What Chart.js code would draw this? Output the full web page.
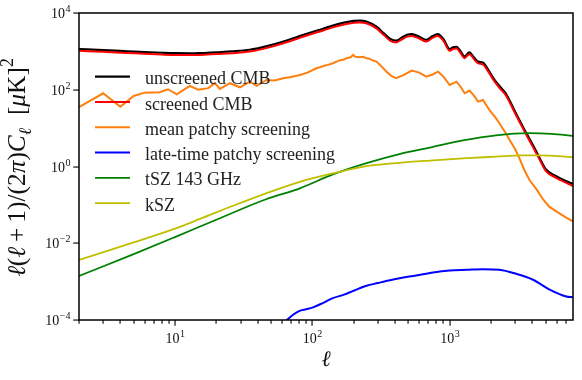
<!DOCTYPE html>
<html><head><meta charset="utf-8">
<script src="https://cdn.jsdelivr.net/npm/chart.js@4.4.0/dist/chart.umd.min.js"></script>
<style>html,body{margin:0;padding:0;background:#fff;}</style>
</head><body>
<canvas id="c" width="582" height="380"></canvas>
<script>
// ---------- data ----------
const seriesLabels = ["unscreened CMB","screened CMB","mean patchy screening","late-time patchy screening","tSZ 143 GHz","kSZ"];

const ellCMB = [2,3,4,5,6,8,10,13,15,20,26,35,46,60,81,100,120,141,170,200,221,250,293,330,370,407,450,490,530,600,676,750,818,900,1000,1060,1120,1200,1280,1390,1500,1610,1740,1900,2100,2300,2560,3040,3610,4040,4520,5000,6000,7000,7900];
const unscreenedCMB = [1150,1080,1030,990,960,920,895,890,900,950,1000,1100,1350,1750,2500,3200,3900,4700,5600,6200,6300,5900,4400,3000,2100,1900,2300,2700,2800,2400,2000,2500,2800,2100,1150,1280,1320,1000,740,940,700,540,510,340,190,125,80,24,7.4,3.6,1.65,0.85,0.55,0.42,0.35];
const screenedCMB = [1035,972,927,891,864,828,806,801,810,855,900,990,1215,1575,2250,2880,3510,4230,5040,5580,5670,5310,3960,2700,1890,1710,2070,2430,2520,2160,1800,2250,2520,1890,1035,1152,1188,900,666,846,630,486,459,306,171,112,72,21.6,6.7,3.2,1.5,0.77,0.5,0.38,0.31];

const ellMean = [2,3,4,5,6,7.7,8.9,10.3,12.8,14.7,17.5,19.5,21.2,25.1,29.7,35.1,39.3,46.4,53,61.4,70,81.3,92,107,115,122,130,141,150,160,170,177,190,198,205,220,235,248,260,270,293,320,347,375,407,460,530,600,676,750,822,900,1000,1120,1200,1285,1397,1500,1610,1745,1950,2150,2300,2560,2730,3000,3225,3500,3800,4300,4770,5300,5970,7000,7900];
const meanPatchy = [35,81,36,69,84,86,103,76,126,100,110,148,105,148,116,162,126,180,175,200,215,243,280,363,390,420,445,490,540,590,610,660,700,810,720,700,720,660,640,600,540,400,295,230,200,240,315,280,220,250,295,220,133,162,120,81,95,70,49,54,29.5,19,13.4,7.4,4.9,2.8,1.6,0.8,0.45,0.25,0.14,0.09,0.068,0.047,0.037];

const ellLate = [60,65,72,80,90,100,120,141,170,200,248,300,350,430,570,757,1000,1330,1745,2300,3040,4040,5340,7060,7900];
const latePatchy = [8.5e-5,1.0e-4,1.35e-4,1.7e-4,1.9e-4,2.1e-4,2.8e-4,3.7e-4,4.6e-4,5.8e-4,7.8e-4,9.2e-4,1.05e-3,1.23e-3,1.45e-3,1.74e-3,1.95e-3,2.03e-3,2.1e-3,2.03e-3,1.6e-3,1.12e-3,6.2e-4,4.1e-4,3.9e-4];

const ellTSZ = [2,5,10,19,46,81,141,248,430,716,1250,2170,3800,5500,7900];
const tSZ = [0.0014,0.0052,0.0145,0.038,0.14,0.27,0.62,1.22,2.1,3.1,4.8,6.5,7.4,7.1,6.3];

const ellKSZ = [2,5,10,15.2,26.5,46,81,141,248,430,716,1330,2170,3300,4520,7900];
const kSZ = [0.0037,0.0105,0.024,0.043,0.095,0.20,0.40,0.66,1.02,1.25,1.43,1.65,1.8,1.95,1.95,1.75];

const xTickExps = [1,2,3];
const yTickExps = [-4,-2,0,2,4];

// ---------- chart ----------
const SERIF = "'Liberation Serif','Times New Roman',serif";
const pts = (xs, ys) => xs.map((v, i) => ({x: v, y: ys[i]}));
const colors = ["#000000","#ff0000","#ff7f0e","#0000ff","#008000","#bfbf00"];
const widths = [2.2,2,2,2,1.8,1.8];
const sets = [
  [ellCMB, unscreenedCMB, 'monotone'],
  [ellCMB, screenedCMB, 'monotone'],
  [ellMean, meanPatchy, null],
  [ellLate, latePatchy, 'monotone'],
  [ellTSZ, tSZ, 'monotone'],
  [ellKSZ, kSZ, 'monotone']
];
const datasets = sets.map((s, i) => {
  const d = {
    label: seriesLabels[i], data: pts(s[0], s[1]),
    borderColor: colors[i], backgroundColor: colors[i],
    borderWidth: widths[i], pointRadius: 0, fill: false,
    order: 10 - i
  };
  if (s[2]) d.cubicInterpolationMode = s[2]; else d.tension = 0;
  return d;
});

function supStr(e){ return e < 0 ? "\u2212" + (-e) : String(e); }
function drawPow(ctx, x, y, exp, align){
  const base = "10", sup = supStr(exp);
  ctx.font = "14px " + SERIF;
  const wb = ctx.measureText(base).width;
  ctx.font = "10px " + SERIF;
  const we = ctx.measureText(sup).width;
  let sx = align === 'right' ? x - wb - we : x - (wb + we) / 2;
  ctx.textAlign = 'left'; ctx.textBaseline = 'alphabetic';
  ctx.font = "14px " + SERIF; ctx.fillText(base, sx, y);
  ctx.font = "10px " + SERIF; ctx.fillText(sup, sx + wb + 0.5, y - 6);
}

const decor = {
  id: 'decor',
  afterDraw(chart){
    const ctx = chart.ctx, a = chart.chartArea, xs = chart.scales.x, ys = chart.scales.y;
    ctx.save();
    ctx.fillStyle = "#000"; ctx.strokeStyle = "#000";
    // frame
    ctx.lineWidth = 1.5;
    ctx.strokeRect(a.left, a.top, a.right - a.left, a.bottom - a.top);
    // x ticks (major at decades, minor at 2..9)
    for (let d = 0; d <= 4; d++) for (let m = 1; m <= 9; m++) {
      const v = m * Math.pow(10, d);
      if (v < 2 || v > 7900) continue;
      const px = Math.round(xs.getPixelForValue(v));
      const len = m === 1 ? 5 : 3;
      ctx.fillRect(px - 0.5, a.bottom, 1.1, len + 0.75);
    }
    ctx.fillStyle = "#111";
    xTickExps.forEach(e => drawPow(ctx, xs.getPixelForValue(Math.pow(10, e)), a.bottom + 23, e, 'center'));
    // y ticks
    yTickExps.forEach(e => {
      const py = Math.round(ys.getPixelForValue(Math.pow(10, e)));
      ctx.fillStyle = "#000";
      ctx.fillRect(a.left - 5.75, py - 0.5, 5.75, 1.1);
      ctx.fillStyle = "#111";
      drawPow(ctx, a.left - 9, py + 5, e, 'right');
    });
    // x title
    ctx.font = "italic 22px " + SERIF; ctx.textAlign = 'center';
    ctx.fillText("\u2113", (a.left + a.right) / 2, 366);
    // y title (rotated)
    const parts = [
      ["\u2113","i",0],["(","n",0],["\u2113","i",0],["\u2009+\u20091)/(2","n",0],["\u03c0","i",0],[")","n",0],
      ["C","i",0],["\u2113","i",1],["\u2002[","n",0],["\u03bc","i",0],["K]","n",0],["2","n",2]
    ];
    const targetW = 219;
    let fs = 20;
    const fontFor = p => (p[1] === "i" ? "italic " : "") + (p[2] ? (fs*0.7).toFixed(1) : fs.toFixed(1)) + "px " + SERIF;
    const measure = () => { let W = 0; parts.forEach(p => { ctx.font = fontFor(p); W += ctx.measureText(p[0]).width; }); return W; };
    let W = measure();
    fs = fs * targetW / W;
    W = measure();
    ctx.translate(25, (a.top + a.bottom) / 2 + W / 2 + 1);
    ctx.rotate(-Math.PI / 2);
    ctx.textAlign = 'left';
    let cx = 0;
    parts.forEach(p => {
      ctx.font = fontFor(p);
      const dy = p[2] === 1 ? fs*0.22 : (p[2] === 2 ? -fs*0.48 : 0);
      ctx.fillText(p[0], cx, dy);
      cx += ctx.measureText(p[0]).width;
    });
    ctx.restore();
    // legend
    ctx.save();
    seriesLabels.forEach((lab, i) => {
      const ly = 76.7 + i * 25.3;
      ctx.strokeStyle = colors[i]; ctx.lineWidth = widths[i];
      ctx.beginPath(); ctx.moveTo(95, ly); ctx.lineTo(130, ly); ctx.stroke();
      ctx.fillStyle = "#222"; ctx.font = "18px " + SERIF; ctx.textAlign = 'left';
      ctx.textBaseline = 'alphabetic';
      ctx.fillText(lab, 145, ly + 7.5);
    });
    ctx.restore();
  }
};

new Chart(document.getElementById('c'), {
  type: 'line',
  data: { datasets },
  options: {
    responsive: false, animation: false, devicePixelRatio: 1,
    layout: { padding: { left: 79, top: 13, right: 9, bottom: 60 } },
    plugins: { legend: { display: false }, tooltip: { enabled: false } },
    scales: {
      x: { type: 'logarithmic', min: 2, max: 7900, display: false },
      y: { type: 'logarithmic', min: 1e-4, max: 1e4, display: false }
    }
  },
  plugins: [decor]
});
</script>
</body></html>
